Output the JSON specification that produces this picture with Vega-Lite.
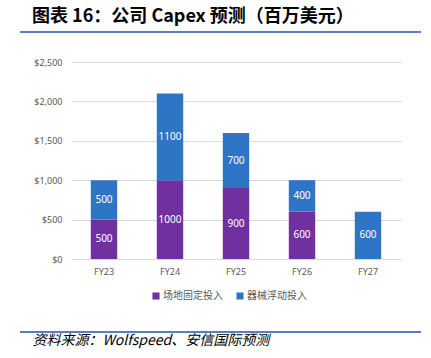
{
  "$schema": "https://vega.github.io/schema/vega-lite/v6.json",
  "width": 330,
  "height": 197,
  "autosize": "none",
  "padding": {"left": 71, "top": 62, "right": 30, "bottom": 99},
  "background": "white",
  "title": {
    "text": "图表 16：公司 Capex 预测（百万美元）",
    "anchor": "start",
    "frame": "group",
    "dx": -39,
    "offset": 5,
    "font": "Noto Sans CJK SC",
    "fontSize": 18,
    "fontWeight": "bold",
    "color": "#000000"
  },
  "config": {
    "view": {"stroke": null},
    "font": "Noto Sans CJK SC",
    "axisY": {
      "values": [0, 500, 1000, 1500, 2000, 2500],
      "format": "$,.0f",
      "domain": false,
      "ticks": false,
      "title": null,
      "labelFont": "Noto Sans",
      "labelFontSize": 9,
      "labelColor": "#595959",
      "labelPadding": 9,
      "labelOverlap": false,
      "gridColor": "#D9D9D9",
      "gridWidth": 1
    }
  },
  "layer": [
    {
      "data": {
        "values": [
          {"year": "FY23", "type": "场地固定投入", "value": 500, "k": 1},
          {"year": "FY23", "type": "器械浮动投入", "value": 500, "k": 2},
          {"year": "FY24", "type": "场地固定投入", "value": 1000, "k": 1},
          {"year": "FY24", "type": "器械浮动投入", "value": 1100, "k": 2},
          {"year": "FY25", "type": "场地固定投入", "value": 900, "k": 1},
          {"year": "FY25", "type": "器械浮动投入", "value": 700, "k": 2},
          {"year": "FY26", "type": "场地固定投入", "value": 600, "k": 1},
          {"year": "FY26", "type": "器械浮动投入", "value": 400, "k": 2},
          {"year": "FY27", "type": "器械浮动投入", "value": 600, "k": 2}
        ]
      },
      "transform": [
        {"stack": "value", "groupby": ["year"], "sort": [{"field": "k"}], "as": ["v0", "v1"]},
        {"calculate": "(datum.v0+datum.v1)/2", "as": "mid"}
      ],
      "encoding": {
        "x": {
          "field": "year",
          "type": "nominal",
          "sort": null,
          "scale": {"paddingInner": 0.6, "paddingOuter": 0.3},
          "axis": {
            "labelAngle": 0,
            "domain": false,
            "ticks": false,
            "labelFont": "Noto Sans",
            "labelFontSize": 9,
            "labelColor": "#595959",
            "labelPadding": 8,
            "title": "资料来源：Wolfspeed、安信国际预测",
            "titleX": -39,
            "titleY": 81,
            "titleAlign": "left",
            "titleAnchor": "start",
            "titleBaseline": "middle",
            "titleFont": "Noto Sans CJK SC",
            "titleFontSize": 14,
            "titleFontWeight": "normal",
            "titleFontStyle": "italic",
            "titleColor": "#000000"
          }
        }
      },
      "layer": [
        {
          "mark": {"type": "bar"},
          "encoding": {
            "y": {
              "field": "v0",
              "type": "quantitative",
              "scale": {"domain": [0, 2500], "nice": false},
              "axis": {"title": null, "values": [0, 500, 1000, 1500, 2000, 2500], "format": "$,.0f"}
            },
            "y2": {"field": "v1"},
            "color": {
              "field": "type",
              "type": "nominal",
              "sort": ["场地固定投入", "器械浮动投入"],
              "scale": {"domain": ["场地固定投入", "器械浮动投入"], "range": ["#7030A0", "#2E75C6"]},
              "legend": {
                "title": null,
                "orient": "none",
                "legendX": 80,
                "legendY": 229,
                "direction": "horizontal",
                "symbolType": "square",
                "symbolSize": 50,
                "symbolStrokeWidth": 0,
                "labelFont": "Noto Sans CJK SC",
                "labelFontSize": 10,
                "labelColor": "#595959",
                "labelOffset": 2,
                "columnPadding": 12
              }
            }
          }
        },
        {
          "mark": {"type": "text", "color": "white", "font": "Noto Sans", "fontSize": 10},
          "encoding": {
            "y": {"field": "mid", "type": "quantitative", "axis": {"title": null, "values": [0, 500, 1000, 1500, 2000, 2500], "format": "$,.0f"}},
            "text": {"field": "value", "type": "quantitative"}
          }
        }
      ]
    },
    {
      "data": {
        "values": [
          {"a": 0, "b": 1, "v": 2880},
          {"a": 0, "b": 1, "v": -926}
        ]
      },
      "mark": {"type": "rule", "clip": false, "color": "#5A7DC0", "strokeWidth": 2},
      "encoding": {
        "x": {"field": "a", "type": "quantitative", "scale": {"domain": [0, 1], "range": [-51, 350]}, "axis": null},
        "x2": {"field": "b"},
        "y": {"field": "v", "type": "quantitative", "axis": {"title": null, "values": [0, 500, 1000, 1500, 2000, 2500], "format": "$,.0f"}}
      }
    }
  ],
  "resolve": {"scale": {"x": "independent"}}
}
